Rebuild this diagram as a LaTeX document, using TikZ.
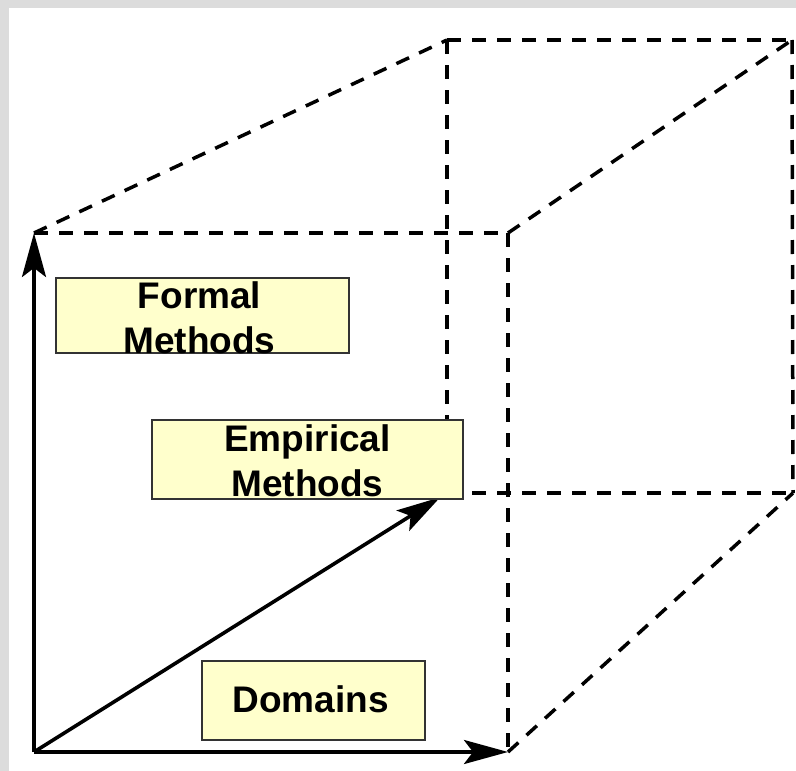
\documentclass[tikz,border=0pt]{standalone}
\usepackage{fontspec}
\setmainfont{Liberation Sans}
\usetikzlibrary{arrows.meta,calc}
\definecolor{framegray}{HTML}{DCDCDC}
\definecolor{boxfill}{HTML}{FFFFCC}
\definecolor{boxline}{HTML}{333333}
\begin{document}
\begin{tikzpicture}[x=1pt,y=-1pt,
  edge/.style={line width=3.5pt,dash pattern=on 14pt off 11pt},
  axis/.style={line width=3.6pt,-{Stealth[length=44pt,width=24pt,inset=9pt]}},
  labelbox/.style={draw=boxline,line width=1.3pt,fill=boxfill,inner sep=0pt},
  boxtext/.style={font=\fontsize{37}{45}\selectfont\bfseries,align=center,inner sep=0pt}]
  % frame
  \useasboundingbox (0,0) rectangle (796,771);
  \fill[framegray] (0,0) rectangle (796,771);
  \fill[white] (9,8) rectangle (796,771);
  % cube corners: front face A B C D, back face E F G H
  \coordinate (A) at (34,752);
  \coordinate (B) at (34,233);
  \coordinate (C) at (508,233);
  \coordinate (D) at (508,752);
  \coordinate (E) at (447,40);
  \coordinate (F) at (792,40);
  \coordinate (G) at (793,493);
  \coordinate (H) at (447,493);
  % dashed cube edges
  \draw[edge] (B) -- (C);
  \draw[edge] (C) -- (D);
  \draw[edge] (B) -- (E);
  \draw[edge] (C) -- (F);
  \draw[edge] (D) -- (G);
  \draw[edge] (E) -- (F);
  \draw[edge] (F) -- (G);
  \draw[edge] (E) -- (H);
  \draw[edge] (H) -- (G);
  % axes
  \draw[axis] (A) -- (B);
  \draw[axis] (A) -- (D);
  \draw[axis,shorten >=8pt] (A) -- (H);
  % labels
  \node[labelbox,minimum width=293pt,minimum height=75pt] (formal) at (202.5,315.5) {};
  \node[boxtext] (formaltext) at ($(formal.center)+(-3,2)$) {Formal\\Methods};
  \node[labelbox,minimum width=311pt,minimum height=79pt] (empirical) at (307.5,459.5) {};
  \node[boxtext] (empiricaltext) at ($(empirical.center)+(0,1)$) {Empirical\\Methods};
  \node[labelbox,minimum width=223pt,minimum height=79pt] (domains) at (313.5,700.5) {};
  \node[boxtext] (domainstext) at ($(domains.center)+(-3,-1)$) {Domains};
\end{tikzpicture}
\end{document}
